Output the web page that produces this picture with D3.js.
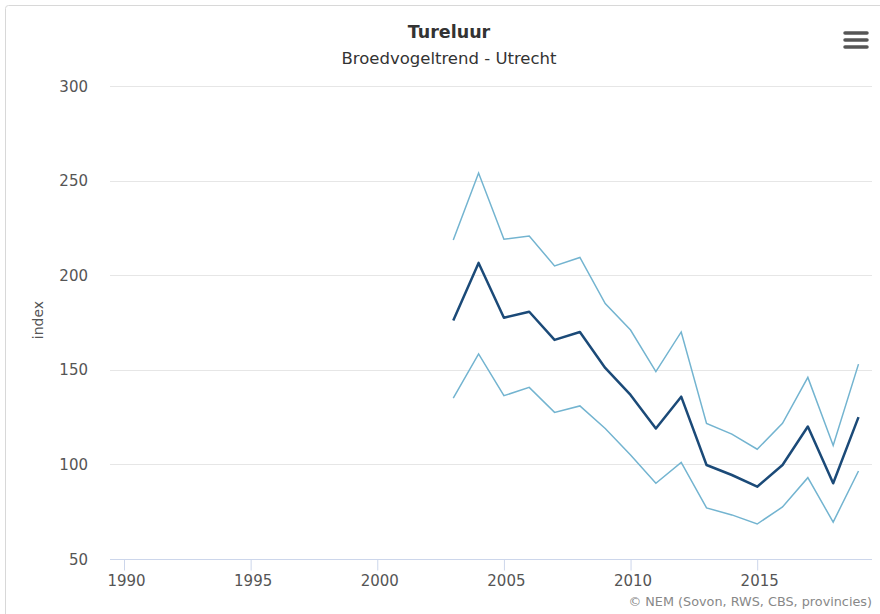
<!DOCTYPE html>
<html><head><meta charset="utf-8">
<script src="https://cdn.jsdelivr.net/npm/d3@7"></script>
<style>body{margin:0;background:#fff;}svg{display:block;font-family:"DejaVu Sans",sans-serif;}</style>
</head><body><svg id="c" width="880" height="614"></svg>
<script>
const years = [2003,2004,2005,2006,2007,2008,2009,2010,2011,2012,2013,2014,2015,2016,2017,2018,2019];
const indexValues = [176,206.5,177.5,180.7,165.8,170,151,136.7,119,135.8,99.7,94.4,88.2,99.7,120,90,125];
const upperValues = [218.6,254,219,220.7,204.9,209.4,185,171,149,170,121.7,116,108,121.7,146,110,153];
const lowerValues = [135,158.4,136.3,140.7,127.5,130.9,119,105,90,101,77,73.3,68.5,77.5,93,69.5,96.5];
const xTicks = [1990,1995,2000,2005,2010,2015];
const yTicks = [50,100,150,200,250,300];

const svg = d3.select("#c");
svg.append("rect").attr("x",5.5).attr("y",5.5).attr("width",900).attr("height",640).attr("rx",3)
  .attr("fill","#fff").attr("stroke","#d8d8d8");

const x = d3.scaleLinear().domain([1990,2019]).range([124,858.5]);
const y = d3.scaleLinear().domain([50,300]).range([559,86]);
const plotL = 110, plotR = 872;

// grid
svg.append("g").selectAll("line").data(yTicks.filter(d=>d>50)).join("line")
  .attr("x1",plotL).attr("x2",plotR).attr("y1",d=>Math.round(y(d))+0.5).attr("y2",d=>Math.round(y(d))+0.5)
  .attr("stroke","#e6e6e6").attr("stroke-width",1);

// y labels
svg.append("g").selectAll("text").data(yTicks).join("text")
  .attr("x",88).attr("y",d=>y(d)+5.5).attr("text-anchor","end")
  .attr("font-size",15).attr("fill","#555").text(d=>d);

// x axis
const xa = svg.append("g").attr("transform","translate(0,559.5)")
  .call(d3.axisBottom(x).tickValues(xTicks).tickFormat(d3.format("d")).tickSize(11).tickPadding(5));
xa.attr("font-family",null).attr("font-size",null);
xa.select(".domain").remove();
xa.selectAll(".tick line").attr("stroke","#ccd6eb");
xa.selectAll(".tick text").attr("font-size",15).attr("fill","#555").attr("dx",2);
svg.append("line").attr("x1",plotL).attr("x2",plotR).attr("y1",559.5).attr("y2",559.5).attr("stroke","#ccd6eb");

// axis title
svg.append("text").attr("transform","translate(43,320) rotate(-90)").attr("text-anchor","middle")
  .attr("font-size",14).attr("fill","#555").text("index");

// lines
const line = vals => d3.line().x((d,i)=>x(years[i])).y(d=>y(d))(vals);
svg.append("path").attr("d",line(upperValues)).attr("fill","none").attr("stroke","#73b4d0").attr("stroke-width",1.5);
svg.append("path").attr("d",line(lowerValues)).attr("fill","none").attr("stroke","#73b4d0").attr("stroke-width",1.5);
svg.append("path").attr("d",line(indexValues)).attr("fill","none").attr("stroke","#1b4a78").attr("stroke-width",2.5).attr("stroke-linejoin","round");

// title
svg.append("text").attr("x",449).attr("y",38).attr("text-anchor","middle").attr("font-size",17.5)
  .attr("font-weight","bold").attr("fill","#333").text("Tureluur");
svg.append("text").attr("x",449).attr("y",64).attr("text-anchor","middle").attr("font-size",16.5)
  .attr("fill","#333").text("Broedvogeltrend - Utrecht");

// menu icon
[33,40,47].forEach(yy=>svg.append("line").attr("x1",845).attr("x2",867).attr("y1",yy).attr("y2",yy)
  .attr("stroke","#555").attr("stroke-width",3.5).attr("stroke-linecap","round"));

// credits
svg.append("text").attr("x",872).attr("y",606).attr("text-anchor","end").attr("font-size",12.8)
  .attr("fill","#888").text("© NEM (Sovon, RWS, CBS, provincies)");
</script></body></html>
